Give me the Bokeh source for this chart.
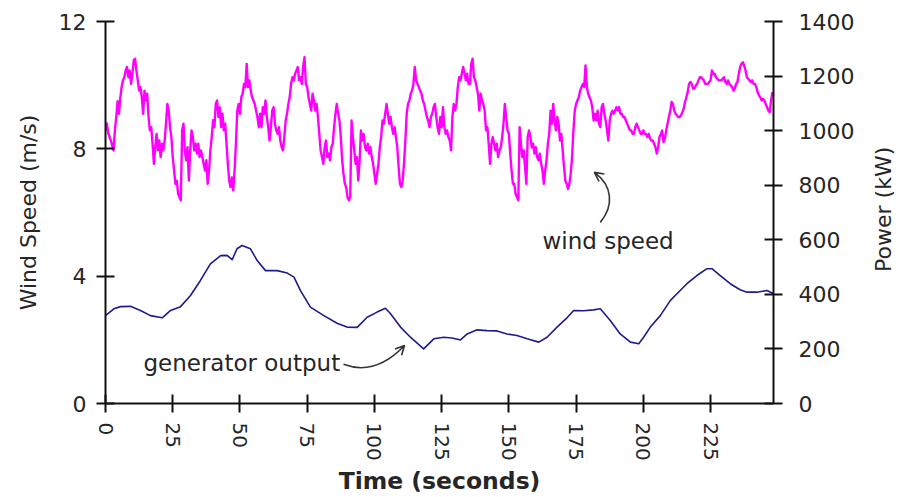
import math
from bokeh.plotting import figure
from bokeh.models import Range1d, LinearAxis, FixedTicker, Arrow, OpenHead, Label
from bokeh.embed import file_html
from bokeh.resources import INLINE

# ---------------- data ----------------
x_ticks = [0, 25, 50, 75, 100, 125, 150, 175, 200, 225]
speed_ticks = [0, 4, 8, 12]
power_ticks = [0, 200, 400, 600, 800, 1000, 1200, 1400]

WIND_DT = 0.5  # seconds between wind samples
wind_speed = [
    8.58, 8.8, 8.5, 8.37, 8.26, 8.1, 7.95, 8.58, 9.0, 9.5,
    9.1, 9.6, 9.94, 10.15, 10.25, 10.46, 10.57, 10.25, 10.46, 10.04,
    10.36, 10.78, 10.83, 10.46, 10.15, 9.83, 9.94, 9.62, 9.1, 9.83,
    9.52, 9.73, 9.0, 8.58, 8.68, 8.16, 7.53, 8.05, 8.47, 7.95,
    8.26, 7.74, 8.16, 7.95, 8.26, 8.79, 9.41, 9.2, 8.68, 8.37,
    7.74, 7.32, 6.9, 7.0, 6.59, 6.48, 6.38, 8.58, 8.79, 7.95,
    7.64, 8.05, 7.0, 7.95, 8.58, 8.37, 7.95, 8.16, 7.85, 8.16,
    7.74, 7.95, 7.74, 7.53, 7.32, 7.64, 6.9, 7.32, 7.95, 8.37,
    8.9, 8.68, 9.41, 9.52, 9.0, 9.3, 8.68, 9.1, 8.58, 8.79,
    8.16, 7.53, 7.0, 6.8, 7.1, 6.69, 7.32, 8.16, 9.2, 9.41,
    9.1, 9.62, 9.73, 10.04, 9.94, 10.67, 9.94, 10.15, 9.83, 9.62,
    9.52, 9.41, 9.2, 9.0, 8.68, 9.1, 8.68, 9.31, 9.1, 9.52,
    9.0, 8.68, 8.26, 8.68, 9.2, 9.31, 8.79, 8.58, 8.47, 8.68,
    8.26, 8.05, 7.95, 8.37, 8.89, 9.1, 9.41, 9.62, 10.04, 10.25,
    10.15, 10.36, 10.46, 10.57, 10.15, 10.25, 10.04, 10.57, 10.88, 10.04,
    9.94, 9.62, 9.41, 9.2, 9.73, 9.52, 9.2, 9.41, 9.0, 8.47,
    7.95, 7.74, 7.53, 8.05, 8.26, 7.74, 7.85, 7.64, 8.05, 8.16,
    8.68, 9.1, 9.41, 9.1, 8.89, 8.37, 7.64, 7.22, 6.9, 6.8,
    6.48, 6.38, 6.48, 8.89, 8.37, 7.95, 7.53, 7.74, 7.0, 7.64,
    8.58, 8.26, 8.47, 8.05, 7.95, 8.16, 7.85, 8.05, 7.74, 7.53,
    7.22, 6.9, 7.22, 7.53, 8.05, 8.37, 8.89, 8.79, 9.1, 9.41,
    9.1, 8.79, 9.0, 8.68, 8.47, 8.68, 8.37, 8.05, 7.43, 6.9,
    6.8, 7.0, 7.53, 8.26, 9.1, 9.41, 9.52, 9.73, 9.83, 10.04,
    10.57, 10.15, 10.04, 9.94, 9.83, 9.73, 9.52, 9.41, 9.2, 9.0,
    8.89, 8.68, 9.0, 9.1, 9.31, 9.41, 9.0, 8.68, 8.47, 9.0,
    8.68, 9.31, 8.68, 8.47, 8.58, 8.37, 8.26, 7.95, 9.0, 9.41,
    9.2, 9.41, 9.94, 10.25, 10.15, 10.36, 10.57, 10.36, 10.15, 10.36,
    10.04, 10.04, 10.67, 10.83, 10.25, 10.15, 9.94, 9.73, 9.2, 9.73,
    9.52, 9.41, 9.2, 8.58, 8.68, 8.16, 7.53, 8.16, 8.37, 8.16,
    7.95, 8.16, 7.74, 7.95, 8.05, 8.37, 8.79, 9.41, 9.0, 8.58,
    8.47, 7.85, 7.32, 6.9, 6.9, 6.59, 6.48, 6.38, 8.68, 8.16,
    7.74, 7.95, 7.43, 6.9, 8.37, 8.58, 8.37, 8.05, 8.16, 7.85,
    8.05, 7.74, 7.64, 7.85, 7.53, 7.32, 6.9, 7.32, 7.64, 8.16,
    8.47, 9.2, 8.79, 9.41, 8.89, 8.58, 9.0, 8.79, 8.26, 8.47,
    7.95, 7.43, 7.0, 6.9, 6.74, 6.9, 7.22, 7.74, 8.58, 9.2,
    9.41, 9.52, 9.62, 9.83, 9.94, 10.04, 9.94, 10.62, 9.94, 9.73,
    9.62, 9.52, 9.31, 8.89, 9.1, 8.89, 9.2, 8.79, 8.68, 9.31,
    9.41, 9.1, 8.89, 8.58, 8.26, 8.89, 9.1, 9.2, 9.1, 9.2,
    9.31, 9.2, 9.31, 9.1, 9.1, 9.0, 9.0, 8.89, 8.79, 8.68,
    8.58, 8.58, 8.47, 8.47, 8.68, 8.79, 8.68, 8.58, 8.47, 8.47,
    8.58, 8.47, 8.47, 8.37, 8.47, 8.32, 8.26, 8.26, 8.16, 8.05,
    7.85, 8.05, 8.37, 8.47, 8.58, 8.21, 8.32, 8.58, 8.79, 9.0,
    9.2, 9.47, 9.41, 9.2, 9.1, 9.05, 9.0, 9.0, 9.05, 9.15,
    9.26, 9.47, 9.62, 9.78, 10.04, 10.1, 10.04, 9.89, 9.89, 9.99,
    10.04, 10.15, 10.25, 10.25, 10.2, 10.15, 10.04, 10.04, 10.04, 10.1,
    10.15, 10.46, 10.36, 10.36, 10.25, 10.2, 10.15, 10.15, 10.15, 10.2,
    10.25, 10.1, 10.04, 10.15, 10.04, 9.99, 9.94, 9.83, 9.89, 10.04,
    10.1, 10.36, 10.57, 10.67, 10.72, 10.62, 10.46, 10.25, 10.2, 10.15,
    10.1, 10.15, 10.04, 10.04, 9.94, 9.78, 9.68, 9.62, 9.52, 9.57,
    9.52, 9.41, 9.31, 9.2, 9.15, 9.52, 9.78,
]
wind_time = [i * WIND_DT for i in range(len(wind_speed))]

power_time = [0, 3.1, 5.6, 9.3, 13.0, 16.7, 21.1, 24.2, 27.9, 31.6,
              35.3, 39.0, 42.8, 45.2, 47.1, 48.9, 50.8, 53.9, 56.4, 59.5,
              63.8, 67.6, 70.1, 72.5, 76.2, 81.2, 86.1, 89.8, 93.6, 97.3,
              101.0, 104.1, 106.0, 109.7, 113.4, 118.3, 122.1, 125.8, 128.9, 132.0,
              134.5, 138.2, 141.9, 145.6, 149.3, 153.0, 156.8, 161.1, 164.2, 167.9,
              171.6, 174.1, 177.8, 181.5, 184.0, 187.7, 191.4, 195.2, 198.3, 200.1,
              202.6, 206.3, 210.0, 213.7, 216.2, 219.9, 223.7, 225.5, 228.6, 232.3,
              236.0, 238.5, 242.2, 246.0, 248.4]
power_kw = [322, 347, 355, 356, 341, 322, 314, 341, 355, 396,
            451, 512, 542, 543, 527, 567, 579, 567, 524, 487,
            487, 478, 463, 414, 353, 322, 294, 280, 279, 316,
            335, 349, 329, 280, 243, 200, 237, 243, 240, 233,
            255, 270, 267, 266, 255, 249, 237, 225, 243, 280,
            314, 341, 340, 343, 347, 304, 255, 225, 219, 243,
            280, 322, 377, 414, 439, 469, 494, 494, 469, 439,
            417, 408, 408, 414, 402]

# ---------------- figure ----------------
FONT = "DejaVu Sans"
TXT = "#262626"
ANN = "#333333"

p = figure(width=900, height=497, output_backend="svg", toolbar_location=None,
           x_range=Range1d(0, 248.4), y_range=Range1d(0, 12),
           min_border_left=105, min_border_right=127, min_border_top=21,
           min_border_bottom=94)
p.extra_y_ranges = {"power": Range1d(0, 1400)}
p.outline_line_color = None
p.xgrid.visible = False
p.ygrid.visible = False

p.line(wind_time, wind_speed, line_color="#FF00FF", line_width=2.4,
       line_join="round")
p.line(power_time, power_kw, line_color="#1c1c8c", line_width=1.6,
       line_join="round", y_range_name="power")

right = LinearAxis(y_range_name="power")
p.add_layout(right, "right")


def style(ax, ticks, label, standoff, title_standoff, bold=False,
          size="22px", tick_size="22px"):
    ax.ticker = FixedTicker(ticks=ticks)
    ax.axis_label = label
    ax.axis_line_color = "#111111"
    ax.axis_line_width = 2
    ax.major_tick_line_color = "#111111"
    ax.major_tick_line_width = 2
    ax.major_tick_in = 9
    ax.major_tick_out = 9
    ax.minor_tick_line_color = None
    ax.major_label_text_font = FONT
    ax.major_label_text_font_size = tick_size
    ax.major_label_text_color = TXT
    ax.major_label_standoff = standoff
    ax.axis_label_text_font = FONT
    ax.axis_label_text_font_size = size
    ax.axis_label_text_font_style = "bold" if bold else "normal"
    ax.axis_label_text_color = TXT
    ax.axis_label_standoff = title_standoff


style(p.xaxis[0], x_ticks, "Time (seconds)", 10, 3, bold=True,
      size="23.5px", tick_size="20px")
p.xaxis[0].major_label_orientation = "vertical"
style(p.yaxis[0], speed_ticks, "Wind Speed (m/s)", 10, 15)
style(right, power_ticks, None, 16, 0)

# Right-hand title "Power (kW)", reading bottom to top and centred like the
# reference; placed in the right side panel so it is not clipped to the frame.
p.add_layout(Label(x=289.3, y=6.1, text="Power (kW)", angle=math.pi / 2,
                   text_font=FONT, text_font_size="22px", text_color=TXT,
                   text_align="center", text_baseline="middle"), "right")

# ---------------- annotations ----------------
p.add_layout(Label(x=162.5, y=5.09, text="wind speed", text_font=FONT,
                   text_font_size="23px", text_color=TXT,
                   text_baseline="middle", text_align="left"))
p.add_layout(Label(x=14.1, y=1.26, text="generator output", text_font=FONT,
                   text_font_size="23px", text_color=TXT,
                   text_baseline="middle", text_align="left"))

# curved arrow for wind speed
wa = dict(x0=184.0, y0=5.69, cx0=189.2, cy0=6.22, cx1=188.5, cy1=6.85, x1=181.8, y1=7.26)
# curved arrow for generator output
ga = dict(x0=88.5, y0=1.23, cx0=96.7, cy0=0.97, cx1=104.1, cy1=1.19, x1=111.2, y1=1.82)

for a in (wa, ga):
    p.bezier(x0=[a["x0"]], y0=[a["y0"]], x1=[a["x1"]], y1=[a["y1"]],
             cx0=[a["cx0"]], cy0=[a["cy0"]], cx1=[a["cx1"]], cy1=[a["cy1"]],
             line_color=ANN, line_width=1.6)
    xs = a["x1"] - 0.15 * (a["x1"] - a["cx1"])
    ys = a["y1"] - 0.15 * (a["y1"] - a["cy1"])
    p.add_layout(Arrow(end=OpenHead(size=9, line_color=ANN, line_width=1.6),
                       x_start=xs, y_start=ys, x_end=a["x1"], y_end=a["y1"],
                       line_color=ANN, line_width=1.6))

open("out.html", "w").write(file_html(p, INLINE))
